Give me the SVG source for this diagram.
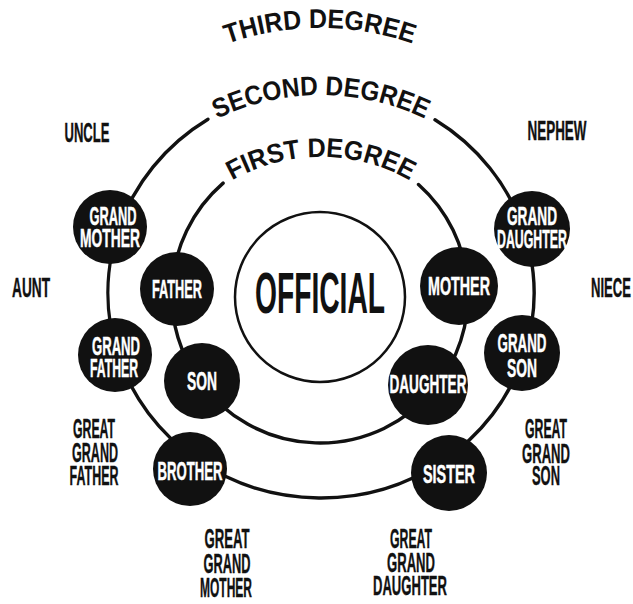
<svg xmlns="http://www.w3.org/2000/svg" width="633" height="604" viewBox="0 0 633 604">
<style>
.bg{fill:#fff}
.ring{fill:none;stroke:#111;stroke-width:3.4;stroke-linecap:round}
.node circle{fill:#111}
.nt{font-family:"Liberation Sans",Arial,sans-serif;font-weight:bold;font-size:26px;fill:#fff;stroke:#fff;stroke-width:0.5;text-anchor:middle}
.lbl{font-family:"Liberation Sans",Arial,sans-serif;font-weight:bold;font-size:27px;fill:#111;stroke:#111;stroke-width:0.4;text-anchor:middle}
.title{font-family:"Liberation Sans",Arial,sans-serif;font-weight:bold;font-size:27px;fill:#111}
.off{font-family:"Liberation Sans",Arial,sans-serif;font-weight:bold;font-size:57px;fill:#111;text-anchor:middle}
</style>
<defs>
<path id="pThird" d="M77.5,168 A280,280 0 0 1 562.5,168"/>
<path id="pSecond" d="M113.2,215 A240,240 0 0 1 528.8,215"/>
<path id="pFirst" d="M165.1,247 A180,180 0 0 1 476.9,247"/>
</defs>
<rect class="bg" x="0" y="0" width="633" height="604"/>

<g id="titles">
<text class="title"><textPath href="#pThird" startOffset="50%" text-anchor="middle" textLength="189" lengthAdjust="spacingAndGlyphs">THIRD DEGREE</textPath></text>
<text class="title"><textPath href="#pSecond" startOffset="50%" text-anchor="middle" textLength="215" lengthAdjust="spacingAndGlyphs">SECOND DEGREE</textPath></text>
<text class="title"><textPath href="#pFirst" startOffset="50%" text-anchor="middle" textLength="186" lengthAdjust="spacingAndGlyphs">FIRST DEGREE</textPath></text>
</g>

<g id="connectors">
<path class="ring" d="M223.1,183.1 A148,148 0 0 0 172.1,288.8"/>
<path class="ring" d="M172.1,288.8 A148,148 0 0 0 200.4,382.2"/>
<path class="ring" d="M200.4,382.2 A148,148 0 0 0 433.7,389.7"/>
<path class="ring" d="M433.7,389.7 A148,148 0 0 0 467.7,285.4"/>
<path class="ring" d="M467.7,285.4 A148,148 0 0 0 418.5,184.5"/>
<path class="ring" d="M208,119.2 A213,205 0 0 0 118.4,229.6"/>
<path class="ring" d="M118.4,229.6 A213,205 0 0 0 117.7,354.3"/>
<path class="ring" d="M117.7,354.3 A213,205 0 0 0 197,459.7"/>
<path class="ring" d="M197,459.7 A213,205 0 0 0 441.3,462.1"/>
<path class="ring" d="M441.3,462.1 A213,205 0 0 0 524.4,353.7"/>
<path class="ring" d="M524.4,353.7 A213,205 0 0 0 524.1,231.4"/>
<path class="ring" d="M524.1,231.4 A213,205 0 0 0 435,119.8"/>
</g>

<g id="official">
<circle cx="320" cy="297" r="85" fill="#fff" stroke="#111" stroke-width="2.5"/>
<text class="off" x="320" y="313" textLength="130" lengthAdjust="spacingAndGlyphs">OFFICIAL</text>
</g>

<g id="grandmother" class="node">
<circle cx="110" cy="227" r="37"/>
<text class="nt" x="113" y="225" textLength="47" lengthAdjust="spacingAndGlyphs">GRAND</text>
<text class="nt" x="110" y="247" textLength="60" lengthAdjust="spacingAndGlyphs">MOTHER</text>
</g>
<g id="father" class="node">
<circle cx="177" cy="289" r="37"/>
<text class="nt" x="177" y="298" font-size="27" textLength="50" lengthAdjust="spacingAndGlyphs">FATHER</text>
</g>
<g id="grandfather" class="node">
<circle cx="115" cy="355" r="37"/>
<text class="nt" x="116" y="355" textLength="48" lengthAdjust="spacingAndGlyphs">GRAND</text>
<text class="nt" x="114" y="377" textLength="48" lengthAdjust="spacingAndGlyphs">FATHER</text>
</g>
<g id="son" class="node">
<circle cx="202" cy="381" r="38"/>
<text class="nt" x="202" y="390" textLength="30" lengthAdjust="spacingAndGlyphs">SON</text>
</g>
<g id="brother" class="node">
<circle cx="190" cy="469" r="37"/>
<text class="nt" x="190" y="480" font-size="27" textLength="65" lengthAdjust="spacingAndGlyphs">BROTHER</text>
</g>
<g id="granddaughter" class="node">
<circle cx="532" cy="229" r="38"/>
<text class="nt" x="532" y="225" textLength="50" lengthAdjust="spacingAndGlyphs">GRAND</text>
<text class="nt" x="532" y="248" textLength="70" lengthAdjust="spacingAndGlyphs">DAUGHTER</text>
</g>
<g id="mother" class="node">
<circle cx="459" cy="286" r="39"/>
<text class="nt" x="459" y="295" font-size="27" textLength="62" lengthAdjust="spacingAndGlyphs">MOTHER</text>
</g>
<g id="grandson" class="node">
<circle cx="522" cy="353" r="38"/>
<text class="nt" x="522" y="352" textLength="49" lengthAdjust="spacingAndGlyphs">GRAND</text>
<text class="nt" x="522" y="377" textLength="30" lengthAdjust="spacingAndGlyphs">SON</text>
</g>
<g id="daughter" class="node">
<circle cx="428" cy="385" r="40"/>
<text class="nt" x="428" y="393" textLength="77" lengthAdjust="spacingAndGlyphs">DAUGHTER</text>
</g>
<g id="sister" class="node">
<circle cx="449" cy="473" r="38"/>
<text class="nt" x="449" y="483" textLength="52" lengthAdjust="spacingAndGlyphs">SISTER</text>
</g>

<g id="uncle"><text class="lbl" x="87" y="142" textLength="45" lengthAdjust="spacingAndGlyphs">UNCLE</text></g>
<g id="nephew"><text class="lbl" x="557" y="140" textLength="59" lengthAdjust="spacingAndGlyphs">NEPHEW</text></g>
<g id="aunt"><text class="lbl" x="31" y="297" textLength="38" lengthAdjust="spacingAndGlyphs">AUNT</text></g>
<g id="niece"><text class="lbl" x="611" y="297" textLength="40" lengthAdjust="spacingAndGlyphs">NIECE</text></g>
<g id="great-grandfather">
<text class="lbl" x="94" y="438" textLength="42" lengthAdjust="spacingAndGlyphs">GREAT</text>
<text class="lbl" x="95" y="462" textLength="46" lengthAdjust="spacingAndGlyphs">GRAND</text>
<text class="lbl" x="94" y="485" textLength="49" lengthAdjust="spacingAndGlyphs">FATHER</text>
</g>
<g id="great-grandson">
<text class="lbl" x="546" y="438" textLength="42" lengthAdjust="spacingAndGlyphs">GREAT</text>
<text class="lbl" x="546" y="463" textLength="48" lengthAdjust="spacingAndGlyphs">GRAND</text>
<text class="lbl" x="546" y="485" textLength="28" lengthAdjust="spacingAndGlyphs">SON</text>
</g>
<g id="great-grandmother">
<text class="lbl" x="227" y="548" textLength="45" lengthAdjust="spacingAndGlyphs">GREAT</text>
<text class="lbl" x="227" y="573" textLength="47" lengthAdjust="spacingAndGlyphs">GRAND</text>
<text class="lbl" x="226" y="597" textLength="52" lengthAdjust="spacingAndGlyphs">MOTHER</text>
</g>
<g id="great-granddaughter">
<text class="lbl" x="411" y="548" textLength="42" lengthAdjust="spacingAndGlyphs">GREAT</text>
<text class="lbl" x="411" y="572" textLength="48" lengthAdjust="spacingAndGlyphs">GRAND</text>
<text class="lbl" x="410" y="595" textLength="74" lengthAdjust="spacingAndGlyphs">DAUGHTER</text>
</g>
</svg>
